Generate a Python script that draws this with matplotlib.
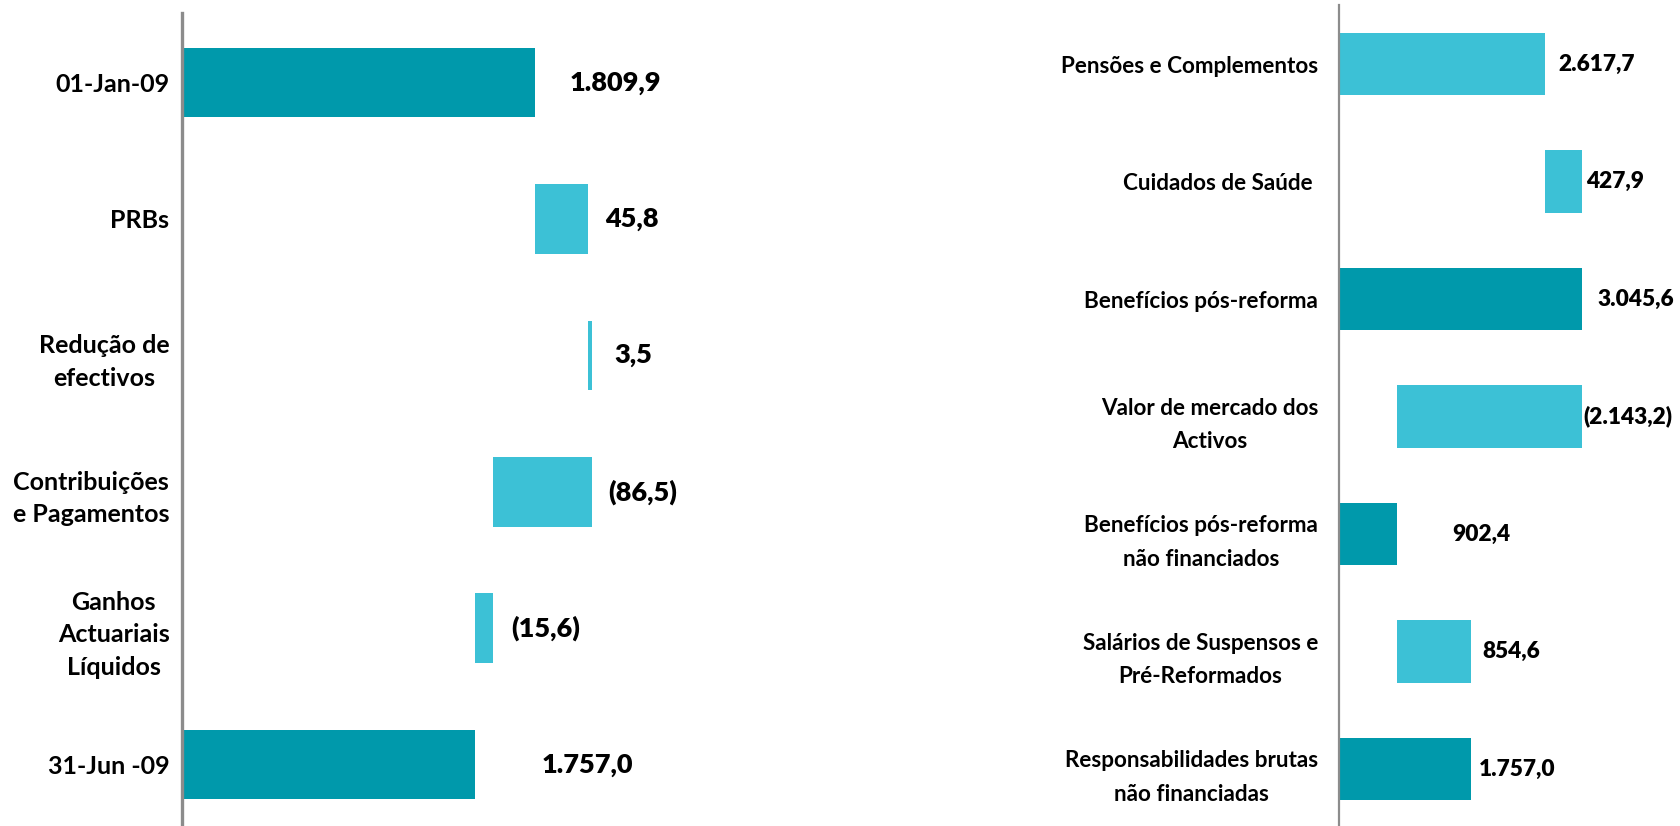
import matplotlib.pyplot as plt

# Fonts: humanist bold sans, close to the original
plt.rcParams["font.family"] = ["Lato", "DejaVu Sans"]
plt.rcParams["font.weight"] = "bold"

DARK = "#0099AB"
LIGHT = "#3CC1D6"
AXIS_GREY = "#8C8C8C"

# Left waterfall
left_labels = ["01-Jan-09", "PRBs", "Redução de\nefectivos", "Contribuições\ne Pagamentos",
               "Ganhos\nActuariais\nLíquidos", "31-Jun -09"]
left_values = [1809.9, 45.8, 3.5, -86.5, -15.6, 1757.0]
left_totals = [True, False, False, False, False, True]

# Right waterfall
right_labels = ["Pensões e Complementos", "Cuidados de Saúde ", "Benefícios pós-reforma",
                "Valor de mercado dos\nActivos", "Benefícios pós-reforma\nnão financiados",
                "Salários de Suspensos e\nPré-Reformados", "Responsabilidades brutas\nnão financiadas"]
right_values = [2617.7, 427.9, 3045.6, -2143.2, 902.4, 854.6, 1757.0]
right_totals = [False, False, True, False, True, False, True]

# gap between bar end and value label, in pixels
left_gaps = [34, 17, 23, 17, 18, 66]
right_gaps = [13, 4, 15, 1, 55, 12, 8]


def fmt(v):
    s = f"{abs(v):,.1f}".replace(",", "X").replace(".", ",").replace("X", ".")
    return f"({s})" if v < 0 else s


def waterfall(ax, labels, values, totals, gaps, height, fsize, lsp):
    running = 0.0
    for i, (v, tot) in enumerate(zip(values, totals)):
        if tot:
            start, running = 0.0, v
            color = DARK
        else:
            start = running
            running = running + v
            color = LIGHT
        ax.barh(i, v, left=start, height=height, color=color, edgecolor="none")
        end = max(start, start + v)
        ax.annotate(fmt(v), xy=(end, i), xytext=(gaps[i], 0), textcoords="offset pixels",
                    ha="left", va="center", fontsize=fsize, fontweight="heavy",
                    annotation_clip=False)
    ax.set_yticks(range(len(labels)))
    ax.set_yticklabels(labels, multialignment="center", linespacing=lsp)
    ax.tick_params(axis="y", length=0)
    ax.set_xticks([])
    for side in ["top", "right", "bottom"]:
        ax.spines[side].set_visible(False)
    ax.spines["left"].set_color(AXIS_GREY)


fig = plt.figure(figsize=(16.8, 8.26), dpi=100)

ax1 = fig.add_axes([0.1083, 0.0, 0.3083, 0.9843])
waterfall(ax1, left_labels, left_values, left_totals, left_gaps, 0.51, 19.5, 1.5)
ax1.set_xlim(1500, 1954)
ax1.set_ylim(5.45, -0.51)
ax1.spines["left"].set_linewidth(2.4)
ax1.tick_params(axis="y", pad=9, labelsize=18)

ax2 = fig.add_axes([0.797, 0.0, 0.203, 0.9935])
waterfall(ax2, right_labels, right_values, right_totals, right_gaps, 0.53, 16.3, 1.75)
ax2.set_xlim(233, 4175)
ax2.set_ylim(6.485, -0.5)
ax2.spines["left"].set_linewidth(1.6)
ax2.tick_params(axis="y", pad=15, labelsize=16.2)

fig.savefig("out.png", dpi=100)
